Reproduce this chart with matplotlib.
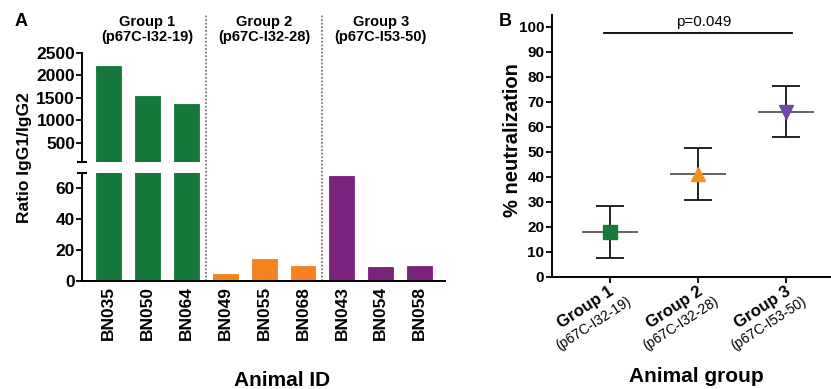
import matplotlib
matplotlib.use('Agg')
import matplotlib.pyplot as plt
from matplotlib.transforms import blended_transform_factory, offset_copy

# ---------------- data ----------------
animals = ['BN035', 'BN050', 'BN064', 'BN049', 'BN055', 'BN068', 'BN043', 'BN054', 'BN058']
ratios = [2200, 1550, 1370, 4.3, 13.9, 9.8, 68, 8.9, 9.6]
animal_group = [0, 0, 0, 1, 1, 1, 2, 2, 2]
group_names = ['Group 1', 'Group 2', 'Group 3']
group_peptides = ['(p67C-I32-19)', '(p67C-I32-28)', '(p67C-I53-50)']
bar_colors = ['#13783a', '#f5821f', '#7a237d']

top_ticks = [500, 1000, 1500, 2000, 2500]
bottom_ticks = [0, 20, 40, 60]

neut_mean = [17.8, 41.2, 66.0]
neut_sd = [10.3, 10.4, 10.2]
marker_colors = ['#167a3a', '#f7901e', '#6b4aa8']
markers = ['s', '^', 'v']
neut_ticks = [0, 10, 20, 30, 40, 50, 60, 70, 80, 90, 100]
p_text = 'p=0.049'

# ---------------- style ----------------
plt.rcParams['font.family'] = ['Liberation Sans', 'DejaVu Sans']
plt.rcParams['font.weight'] = 'bold'
plt.rcParams['axes.linewidth'] = 1.4

W, H = 831, 389
fig = plt.figure(figsize=(W / 100, H / 100), dpi=100)


def rect(x0, y0, x1, y1):
    # pixel box (top-left origin) -> figure fraction
    return [x0 / W, 1 - y1 / H, (x1 - x0) / W, (y1 - y0) / H]


xs = list(range(len(animals)))
cols = [bar_colors[g] for g in animal_group]
xlim_a = (-0.68, 8.65)

ax_top = fig.add_axes(rect(82, 53, 445, 162))
ax_bot = fig.add_axes(rect(82, 173, 445, 280.7))
ax_div = fig.add_axes(rect(82, 15, 445, 280.7), zorder=-1)
ax_div.set_xlim(*xlim_a)
ax_div.axis('off')
ax_div.patch.set_alpha(0)

for ax in (ax_top, ax_bot):
    ax.bar(xs, ratios, width=0.64, color=cols, edgecolor=cols, linewidth=0.6)
    ax.set_xlim(*xlim_a)
    ax.spines['top'].set_visible(False)
    ax.spines['right'].set_visible(False)
    ax.tick_params(axis='y', length=4, width=1.3, pad=1, labelsize=12.5)
    ax.patch.set_alpha(0)

ax_top.set_ylim(70, 2500)
ax_top.set_yticks(top_ticks)
ax_top.spines['bottom'].set_visible(False)
ax_top.set_xticks([])
ax_top.plot([0], [0], marker='_', ms=7, mew=1.5, color='k',
            transform=ax_top.transAxes, clip_on=False)

ax_bot.set_ylim(0, 70)
ax_bot.set_yticks(bottom_ticks)
ax_bot.set_xticks(xs)
ax_bot.set_xticklabels(animals, rotation=90, fontsize=12.5)
ax_bot.tick_params(axis='x', length=0, pad=4)
ax_bot.plot([0], [1], marker='_', ms=7, mew=1.5, color='k',
            transform=ax_bot.transAxes, clip_on=False)

for xd in (2.5, 5.5):
    ax_div.axvline(xd, color='#777777', linestyle=(0, (1, 1)), linewidth=1.3)

tr = blended_transform_factory(ax_div.transData, fig.transFigure)
for g in range(3):
    gx = sum(x for x, a in zip(xs, animal_group) if a == g) / animal_group.count(g)
    fig.text(gx, 1 - 29.5 / H, group_names[g] + '\n' + group_peptides[g],
             transform=tr, ha='center', va='center', fontsize=10.5,
             linespacing=1.05)

fig.text(25 / W, 1 - 158 / H, 'Ratio IgG1/IgG2', rotation=90,
         ha='center', va='center', fontsize=12.5)
fig.text(282 / W, 1 - 380 / H, 'Animal ID', ha='center', va='center', fontsize=15)
fig.text(21 / W, 1 - 22 / H, 'A', ha='center', va='center', fontsize=13)

# ---------------- panel B ----------------
axb = fig.add_axes(rect(552, 15, 831, 276.7))
gx = list(range(len(group_names)))
axb.set_xlim(-0.66, 2.51)
axb.set_ylim(0, 104.7)
axb.spines['top'].set_visible(False)
axb.spines['right'].set_visible(False)
axb.set_yticks(neut_ticks)
axb.tick_params(axis='y', length=4, width=1.3, pad=1.5, labelsize=11)
axb.set_xticks(gx)
axb.set_xticklabels([''] * 3)
axb.tick_params(axis='x', length=4, width=1.3)

for i in gx:
    axb.hlines(neut_mean[i], i - 0.32, i + 0.32, color='#555555', linewidth=1.3, zorder=2)
    axb.errorbar(i, neut_mean[i], yerr=neut_sd[i], fmt='none', ecolor='#111111',
                 elinewidth=1.3, capsize=10.4, capthick=1.3, zorder=2)
    axb.plot(i, neut_mean[i], marker=markers[i], ms=9.5, color=marker_colors[i],
             mec=marker_colors[i], zorder=3, linestyle='none')

axb.plot([-0.07, 2.07], [97.6, 97.6], color='k', linewidth=1.3)
axb.text(1.06, 102, p_text, ha='center', va='center', fontsize=11,
         fontweight='normal')

btr = blended_transform_factory(axb.transData, axb.transAxes)
for i in gx:
    t1 = offset_copy(btr, fig=fig, x=-24, y=-31, units='dots')
    t2 = offset_copy(btr, fig=fig, x=-17, y=-46.5, units='dots')
    axb.text(i, 0, group_names[i], transform=t1, rotation=33, rotation_mode='anchor',
             ha='center', va='center', fontsize=12)
    axb.text(i, 0, group_peptides[i], transform=t2, rotation=33, rotation_mode='anchor',
             ha='center', va='center', fontsize=10, fontweight='normal')

fig.text(512 / W, 1 - 140 / H, '% neutralization', rotation=90,
         ha='center', va='center', fontsize=14.5)
fig.text(696 / W, 1 - 376 / H, 'Animal group', ha='center', va='center', fontsize=15)
fig.text(505 / W, 1 - 21 / H, 'B', ha='center', va='center', fontsize=13)

fig.savefig('out.png', dpi=100)
